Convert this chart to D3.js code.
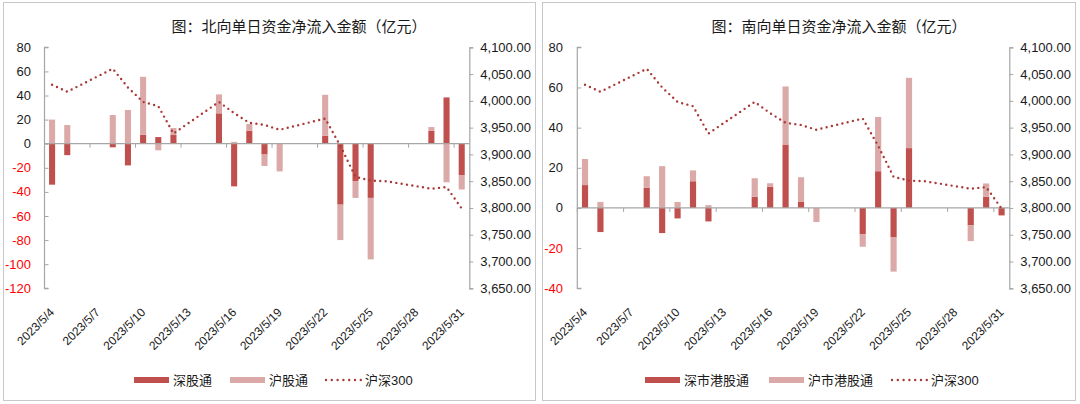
<!DOCTYPE html>
<html><head><meta charset="utf-8">
<script src="https://cdn.jsdelivr.net/npm/d3@7/dist/d3.min.js"></script>
<style>
html,body{margin:0;padding:0;background:#fff;}
svg text{font-family:"Liberation Sans",Arial,"Noto Sans CJK SC",sans-serif;}
</style></head>
<body><svg id="c" width="1080" height="404"></svg>
<script>
// ---- data ----
const days = ["2023/5/4","2023/5/5","2023/5/6","2023/5/7","2023/5/8","2023/5/9","2023/5/10","2023/5/11","2023/5/12","2023/5/13","2023/5/14","2023/5/15","2023/5/16","2023/5/17","2023/5/18","2023/5/19","2023/5/20","2023/5/21","2023/5/22","2023/5/23","2023/5/24","2023/5/25","2023/5/26","2023/5/27","2023/5/28","2023/5/29","2023/5/30","2023/5/31"];
const tickLabels = ["2023/5/4","2023/5/7","2023/5/10","2023/5/13","2023/5/16","2023/5/19","2023/5/22","2023/5/25","2023/5/28","2023/5/31"];
const tradeDays = ["2023/5/4","2023/5/5","2023/5/8","2023/5/9","2023/5/10","2023/5/11","2023/5/12","2023/5/15","2023/5/16","2023/5/17","2023/5/18","2023/5/19","2023/5/22","2023/5/23","2023/5/24","2023/5/25","2023/5/26","2023/5/29","2023/5/30","2023/5/31"];
// 北向
const szNorth = [-34,-9.5,-3,-18,7.5,5.5,7.2,25.2,-35.4,10.8,-9,0,6.6,-50.6,-31,-45,0,10.8,38.4,-26];
const shNorth = [20,15.5,23.8,28,48,-5.5,5.8,15.7,1.5,5.5,-9.5,-23,34,-29.4,-14,-51,0,3,-32,-12];
// 南向
const szSouth = [11.4,-12,10,-12.5,-5.2,13.3,-6.7,5.6,10.5,31.6,3,0,-13,18.3,-14.7,29.8,0,-8.7,5.6,-3.7];
const shSouth = [13,3,5.8,20.8,3,5.4,1.4,9.2,1.8,28.9,12.3,-7,-6.3,27,-17,35,0,-7.8,6.6,0];
// 沪深300
const csi300 = [4030,4017,4060,4025,3998,3990,3939,3998,3977,3959,3955,3946,3967,3916,3858,3851,3850,3836,3839,3799];
const northTicks = [80,60,40,20,0,-20,-40,-60,-80,-100,-120];
const southTicks = [80,60,40,20,0,-20,-40];
const csiTicks = [4100,4050,4000,3950,3900,3850,3800,3750,3700,3650];

const C_DARK = "#C0504D", C_LIGHT = "#DBA9A8", C_LINE = "#A93A37", C_AXIS = "#A6A6A6";
const svg = d3.select("#c");

function panel(cfg){
  const g = svg.append("g");
  g.append("rect").attr("x",cfg.bx0).attr("y",2.5).attr("width",cfg.bx1-cfg.bx0).attr("height",398)
   .attr("fill","#fff").attr("stroke","#C8C8C8").attr("stroke-width",1);
  g.append("text").attr("x",cfg.titleX).attr("y",32).attr("text-anchor","middle")
   .style("font-size","15px").attr("fill","#1a1a1a").text(cfg.title);

  const x = d3.scaleBand().domain(days).range([cfg.x0,cfg.x1]).paddingInner(0).paddingOuter(0);
  const y = d3.scaleLinear().domain(cfg.leftDomain).range([288.3,47.3]);
  const y2 = d3.scaleLinear().domain([3650,4100]).range([288.3,47.3]);
  const bw = x.bandwidth();

  // bars (diverging stack)
  const rows = tradeDays.map((d,i)=>({date:d, a:cfg.dark[i], b:cfg.light[i]}));
  const stack = d3.stack().keys(["a","b"]).offset(d3.stackOffsetDiverging)(rows);
  const cols = {a:C_DARK,b:C_LIGHT};
  stack.forEach(layer=>{
    g.append("g").selectAll("rect").data(layer.filter(s=>Math.abs(s[1]-s[0])>0)).join("rect")
      .attr("x",s=>x(s.data.date)+bw*0.5-bw*0.2)
      .attr("width",bw*0.4)
      .attr("y",s=>y(Math.max(s[0],s[1])))
      .attr("height",s=>Math.abs(y(s[0])-y(s[1])))
      .attr("fill",cols[layer.key]);
  });

  // left axis
  const la = g.append("g").attr("transform",`translate(${cfg.x0},0)`)
    .call(d3.axisRight(y).tickValues(cfg.leftTicks).tickSize(4).tickFormat(""));
  la.select(".domain").attr("stroke",C_AXIS).attr("d",`M4,47.3H0V288.3H4`).attr("stroke-width",1.2);
  la.selectAll(".tick line").attr("stroke",C_AXIS);
  g.append("g").selectAll("text").data(cfg.leftTicks).join("text")
    .attr("x",cfg.labR).attr("y",d=>y(d)+4.5).attr("text-anchor","end")
    .style("font-size","13px").attr("fill",d=>d<0?"#FF0000":"#1a1a1a").text(d=>d);

  // right axis
  const ra = g.append("g").attr("transform",`translate(${cfg.x1},0)`)
    .call(d3.axisRight(y2).tickValues(csiTicks).tickSize(4).tickFormat(""));
  ra.select(".domain").attr("stroke",C_AXIS).attr("stroke-width",1.2);
  ra.selectAll(".tick line").attr("stroke",C_AXIS);
  const fmt = d3.format(",.2f");
  g.append("g").selectAll("text").data(csiTicks).join("text")
    .attr("x",cfg.x1+11).attr("y",d=>y2(d)+4.5)
    .style("font-size","13px").attr("fill","#1a1a1a").text(d=>fmt(d));

  // x axis at zero
  const y0 = y(0);
  g.append("line").attr("x1",cfg.x0).attr("x2",cfg.x1).attr("y1",y0).attr("y2",y0)
    .attr("stroke",C_AXIS).attr("stroke-width",1.2);
  g.append("g").selectAll("line").data(tickLabels).join("line")
    .attr("x1",d=>x(d)).attr("x2",d=>x(d)).attr("y1",y0).attr("y2",y0+4)
    .attr("stroke",C_AXIS);
  g.append("g").selectAll("text").data(tickLabels).join("text")
    .attr("transform",d=>`translate(${x(d)+bw/2+3},313) rotate(-45)`)
    .attr("text-anchor","end").style("font-size","12px").attr("fill","#1a1a1a").text(d=>d);

  // CSI300 dotted line
  const line = d3.line().x((d,i)=>x(tradeDays[i])+bw/2).y(d=>y2(d));
  g.append("path").datum(csi300).attr("d",line).attr("fill","none")
    .attr("stroke",C_LINE).attr("stroke-width",2.4).attr("stroke-linecap","round")
    .attr("stroke-dasharray","0,5.4");

  // legend
  const L = cfg.legend, ly = 380;
  g.append("rect").attr("x",L[0]).attr("y",ly-3).attr("width",35).attr("height",6).attr("fill",C_DARK);
  g.append("text").attr("x",L[0]+39).attr("y",ly+4.5).style("font-size","13px").attr("fill","#1a1a1a").text(cfg.names[0]);
  g.append("rect").attr("x",L[1]).attr("y",ly-3).attr("width",35).attr("height",6).attr("fill",C_LIGHT);
  g.append("text").attr("x",L[1]+39).attr("y",ly+4.5).style("font-size","13px").attr("fill","#1a1a1a").text(cfg.names[1]);
  g.append("line").attr("x1",L[2]+1).attr("x2",L[2]+36).attr("y1",ly).attr("y2",ly)
    .attr("stroke",C_LINE).attr("stroke-width",2.4).attr("stroke-linecap","round").attr("stroke-dasharray","0,5.8");
  g.append("text").attr("x",L[2]+40).attr("y",ly+4.5).style("font-size","13px").attr("fill","#1a1a1a").text(cfg.names[2]);
}

panel({bx0:3.5,bx1:535.5,x0:44.5,x1:469.3,leftDomain:[-120,80],leftTicks:northTicks,labR:31,
  title:"图：北向单日资金净流入金额（亿元）",titleX:299,dark:szNorth,light:shNorth,
  names:["深股通","沪股通","沪深300"],legend:[134,230,325]});
panel({bx0:542.5,bx1:1075.5,x0:577.3,x1:1009.3,leftDomain:[-40,80],leftTicks:southTicks,labR:563,
  title:"图：南向单日资金净流入金额（亿元）",titleX:839,dark:szSouth,light:shSouth,
  names:["深市港股通","沪市港股通","沪深300"],legend:[645,769,891]});
</script></body></html>
